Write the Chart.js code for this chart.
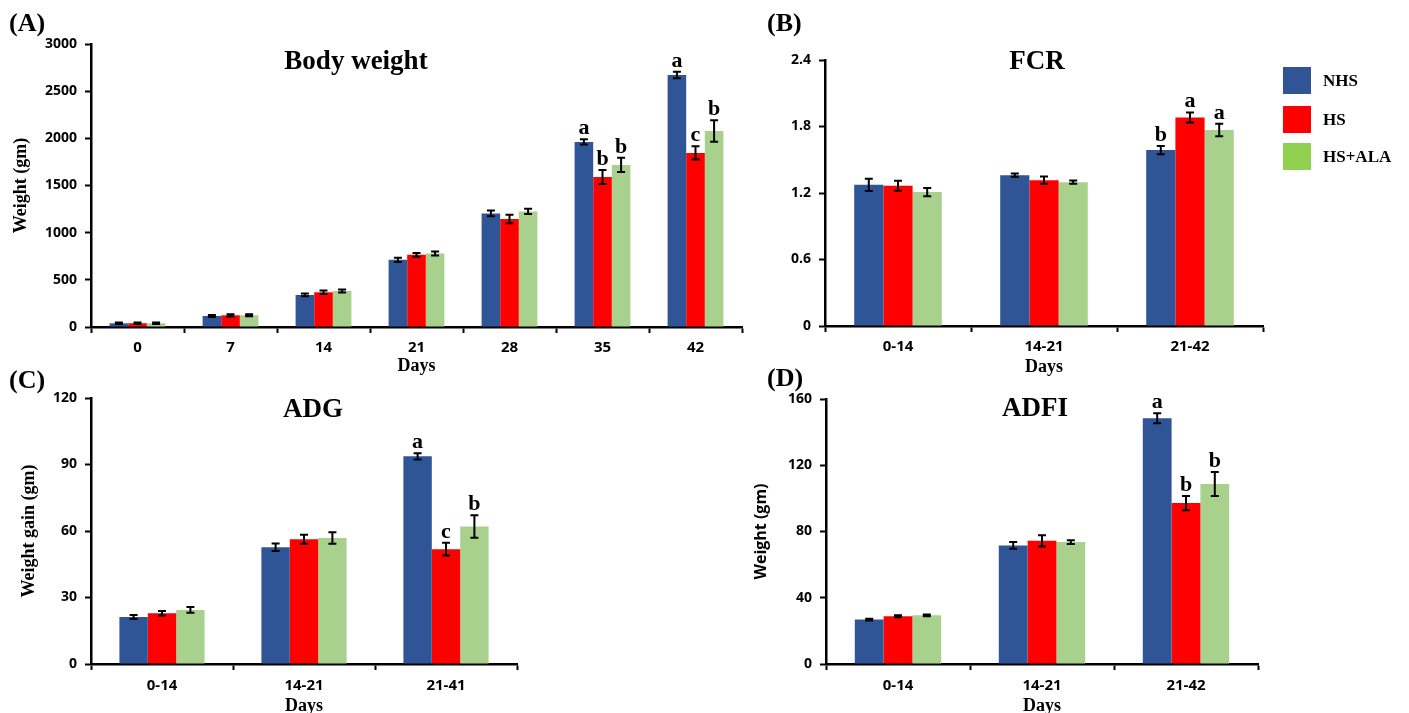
<!DOCTYPE html>
<html>
<head>
<meta charset="utf-8">
<script src="https://cdn.jsdelivr.net/npm/chart.js@4.4.1/dist/chart.umd.min.js"></script>
<style>
  html, body { margin: 0; padding: 0; background: #fff; width: 1409px; height: 713px; overflow: hidden; }
  canvas { position: absolute; left: 0; top: 0; }
  .txt { position: absolute; font-family: "Liberation Serif", "Times New Roman", serif; font-weight: bold; color: #000; white-space: nowrap; line-height: 1; }
  .title { font-size: 27px; transform: translate(-50%, -50%); }
  .panel { font-size: 26px; transform: translateY(-50%); }
  .legend { position: absolute; left: 1283px; top: 67px; }
  .legend .item { position: absolute; left: 0; width: 130px; height: 27px; }
  .legend .box { position: absolute; left: 0; top: 0; width: 28px; height: 27px; }
  .legend .name { position: absolute; left: 40px; top: 4px; font-family: "Liberation Serif", serif; font-weight: bold; font-size: 17px; }
</style>
</head>
<body>
<canvas id="chartA" width="1409" height="730"></canvas>
<canvas id="chartB" width="1409" height="730"></canvas>
<canvas id="chartC" width="1409" height="730"></canvas>
<canvas id="chartD" width="1409" height="730"></canvas>

<div class="txt panel" style="left:9px; top:23px;">(A)</div>
<div class="txt panel" style="left:767px; top:23px;">(B)</div>
<div class="txt panel" style="left:9px; top:380px;">(C)</div>
<div class="txt panel" style="left:767px; top:378px;">(D)</div>

<div class="txt title" style="left:356px; top:60px;">Body weight</div>
<div class="txt title" style="left:1037px; top:60px;">FCR</div>
<div class="txt title" style="left:313px; top:408px;">ADG</div>
<div class="txt title" style="left:1035px; top:407px;">ADFI</div>

<div class="legend">
  <div class="item" style="top:0px;"><div class="box" style="background:#2F5597;"></div><div class="name">NHS</div></div>
  <div class="item" style="top:39px;"><div class="box" style="background:#FF0000;"></div><div class="name">HS</div></div>
  <div class="item" style="top:76px;"><div class="box" style="background:#92D050;"></div><div class="name">HS+ALA</div></div>
</div>

<script>
// ---- Body weight (A) ----
const bwDays = ['0', '7', '14', '21', '28', '35', '42'];
const bwNHS = [39, 117, 340, 712, 1204, 1962, 2672];
const bwHS = [40, 124, 368, 765, 1144, 1591, 1845];
const bwALA = [39, 124, 382, 779, 1225, 1718, 2078];
const bwNHSErr = [8, 10, 15, 22, 30, 28, 35];
const bwHSErr = [8, 12, 18, 20, 45, 74, 70];
const bwALAErr = [8, 10, 15, 22, 28, 76, 115];
const bwNHSLet = ['', '', '', '', '', 'a', 'a'];
const bwHSLet = ['', '', '', '', '', 'b', 'c'];
const bwALALet = ['', '', '', '', '', 'b', 'b'];
const bwTicks = [0, 500, 1000, 1500, 2000, 2500, 3000];

// ---- FCR (B) ----
const fcrPeriods = ['0-14', '14-21', '21-42'];
const fcrNHS = [1.274, 1.361, 1.587];
const fcrHS = [1.265, 1.316, 1.882];
const fcrALA = [1.208, 1.298, 1.768];
const fcrNHSErr = [0.055, 0.015, 0.038];
const fcrHSErr = [0.045, 0.033, 0.045];
const fcrALAErr = [0.038, 0.015, 0.057];
const fcrNHSLet = ['', '', 'b'];
const fcrHSLet = ['', '', 'a'];
const fcrALALet = ['', '', 'a'];
const fcrTicks = [0, 0.6, 1.2, 1.8, 2.4];

// ---- ADG (C) ----
const adgPeriods = ['0-14', '14-21', '21-41'];
const adgNHS = [21.2, 52.7, 93.7];
const adgHS = [22.9, 56.3, 51.8];
const adgALA = [24.4, 56.8, 62.0];
const adgNHSErr = [0.9, 1.7, 1.4];
const adgHSErr = [1.0, 2.0, 2.9];
const adgALAErr = [1.3, 2.6, 5.1];
const adgNHSLet = ['', '', 'a'];
const adgHSLet = ['', '', 'c'];
const adgALALet = ['', '', 'b'];
const adgTicks = [0, 30, 60, 90, 120];

// ---- ADFI (D) ----
const adfiPeriods = ['0-14', '14-21', '21-42'];
const adfiNHS = [26.8, 71.6, 148.4];
const adfiHS = [28.8, 74.4, 97.2];
const adfiALA = [29.4, 73.6, 108.7];
const adfiNHSErr = [0.5, 2.0, 3.0];
const adfiHSErr = [0.6, 3.4, 4.3];
const adfiALAErr = [0.5, 1.1, 7.2];
const adfiNHSLet = ['', '', 'a'];
const adfiHSLet = ['', '', 'b'];
const adfiALALet = ['', '', 'b'];
const adfiTicks = [0, 40, 80, 120, 160];

const SERIES = ['NHS', 'HS', 'HS+ALA'];
const COLORS = ['#2F5597', '#FF0000', '#A9D18E'];
const TICK_FONT = "'Open Sans', sans-serif";
const SERIF = "'Liberation Serif', 'Times New Roman', serif";
const PAGE_W = 1409, PAGE_H = 730;

// error bars + significance letters
const errorBarPlugin = {
  id: 'errorBars',
  afterDatasetsDraw(chart, args, opts) {
    const { ctx } = chart;
    const yScale = chart.scales.y;
    ctx.save();
    ctx.strokeStyle = '#000';
    ctx.lineWidth = 2;
    ctx.fillStyle = '#000';
    ctx.font = "bold 22px " + SERIF;
    ctx.textAlign = 'center';
    ctx.textBaseline = 'alphabetic';
    chart.data.datasets.forEach((ds, i) => {
      const meta = chart.getDatasetMeta(i);
      meta.data.forEach((bar, j) => {
        const v = ds.data[j];
        const e = opts.errors[i][j];
        const yTop = yScale.getPixelForValue(v + e);
        const yBot = yScale.getPixelForValue(v - e);
        ctx.beginPath();
        ctx.moveTo(bar.x, yTop); ctx.lineTo(bar.x, yBot);
        ctx.moveTo(bar.x - 4, yTop); ctx.lineTo(bar.x + 4, yTop);
        ctx.moveTo(bar.x - 4, yBot); ctx.lineTo(bar.x + 4, yBot);
        ctx.stroke();
        const letter = opts.letters[i][j];
        if (letter) ctx.fillText(letter, bar.x, yTop - 5);
      });
    });
    ctx.restore();
  }
};

function makePanel(id, p) {
  new Chart(document.getElementById(id), {
    type: 'bar',
    data: {
      labels: p.labels,
      datasets: p.values.map((vals, i) => ({
        label: SERIES[i],
        data: vals,
        backgroundColor: COLORS[i],
        borderWidth: 0,
        categoryPercentage: 0.6,
        barPercentage: 1.0,
      })),
    },
    options: {
      responsive: false,
      animation: false,
      devicePixelRatio: 1,
      layout: {
        padding: {
          left: p.area.l - p.yWidth,
          top: p.area.t,
          right: PAGE_W - p.area.r,
          bottom: PAGE_H - p.area.b - p.xHeight,
        }
      },
      plugins: {
        legend: { display: false },
        tooltip: { enabled: false },
        errorBars: { errors: p.errors, letters: p.letters },
      },
      scales: {
        x: {
          grid: { display: true, drawOnChartArea: false, offset: true, tickLength: 6, tickWidth: 2, tickColor: '#000' },
          border: { display: true, color: '#000', width: 2.5 },
          ticks: { color: '#000', padding: p.xPad, font: { family: TICK_FONT, weight: 'bold', size: 15 } },
          title: { display: !!p.xTitle, text: p.xTitle, color: '#000', padding: 0, font: { family: SERIF, weight: 'bold', size: 18 } },
          afterFit: axis => { axis.height = p.xHeight; },
        },
        y: {
          min: p.ticks[0],
          max: p.ticks[p.ticks.length - 1],
          grid: { display: true, drawOnChartArea: false, tickLength: 6, tickWidth: 2, tickColor: '#000' },
          border: { display: true, color: '#000', width: 2.5 },
          ticks: {
            color: '#000', padding: 8,
            font: { family: TICK_FONT, weight: 'bold', size: 14 },
            callback: v => String(+v.toFixed(1)),
          },
          afterBuildTicks: axis => { axis.ticks = p.ticks.map(v => ({ value: v })); },
          title: { display: !!p.yTitle, text: p.yTitle, color: '#000', padding: 0, font: p.yFont },
          afterFit: axis => { axis.width = p.yWidth; },
        },
      },
    },
    plugins: [errorBarPlugin],
  });
}

makePanel('chartA', {
  labels: bwDays,
  values: [bwNHS, bwHS, bwALA],
  errors: [bwNHSErr, bwHSErr, bwALAErr],
  letters: [bwNHSLet, bwHSLet, bwALALet],
  ticks: bwTicks,
  area: { l: 91, t: 44, r: 742, b: 327 },
  yWidth: 80, xHeight: 50, xPad: 6,
  xTitle: 'Days', yTitle: 'Weight (gm)',
  yFont: { family: SERIF, weight: 'bold', size: 18 },
});

makePanel('chartB', {
  labels: fcrPeriods,
  values: [fcrNHS, fcrHS, fcrALA],
  errors: [fcrNHSErr, fcrHSErr, fcrALAErr],
  letters: [fcrNHSLet, fcrHSLet, fcrALALet],
  ticks: fcrTicks,
  area: { l: 825, t: 60, r: 1263, b: 326 },
  yWidth: 45, xHeight: 52, xPad: 6,
  xTitle: 'Days', yTitle: '',
  yFont: { family: SERIF, weight: 'bold', size: 18 },
});

makePanel('chartC', {
  labels: adgPeriods,
  values: [adgNHS, adgHS, adgALA],
  errors: [adgNHSErr, adgHSErr, adgALAErr],
  letters: [adgNHSLet, adgHSLet, adgALALet],
  ticks: adgTicks,
  area: { l: 91, t: 398, r: 517, b: 664 },
  yWidth: 72, xHeight: 53, xPad: 7,
  xTitle: 'Days', yTitle: 'Weight gain (gm)',
  yFont: { family: SERIF, weight: 'bold', size: 18 },
});

makePanel('chartD', {
  labels: adfiPeriods,
  values: [adfiNHS, adfiHS, adfiALA],
  errors: [adfiNHSErr, adfiHSErr, adfiALAErr],
  letters: [adfiNHSLet, adfiHSLet, adfiALALet],
  ticks: adfiTicks,
  area: { l: 826, t: 399, r: 1258, b: 664 },
  yWidth: 74, xHeight: 53, xPad: 7,
  xTitle: 'Days', yTitle: 'Weight (gm)',
  yFont: { family: TICK_FONT, weight: 'bold', size: 16 },
});
</script>
</body>
</html>
